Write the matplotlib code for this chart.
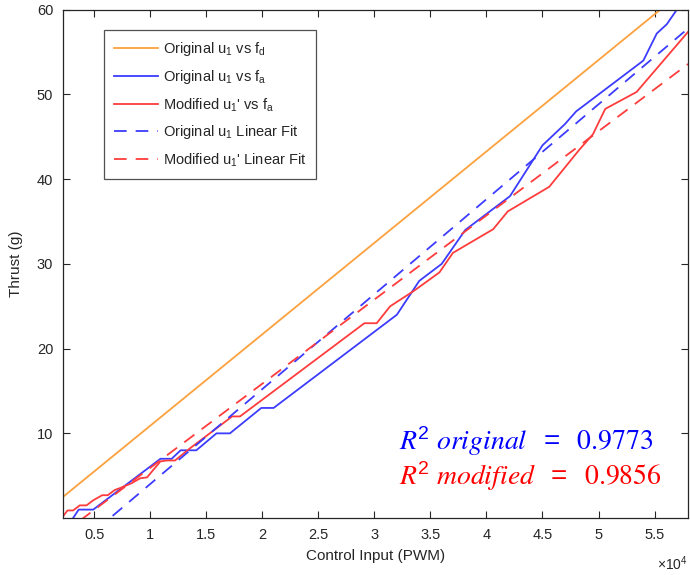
import matplotlib.pyplot as plt

################################################################################
#   Data.                                              #
################################################################################

# desired thrust f_d (straight line)
fd_pwm = [2200, 58000]
fd_thrust = [2.5, 62.7]

# measured thrust, original input u1
orig_pwm = [3100, 3600, 4900, 10900, 11900, 12700, 14100, 15900, 17100,
            19900, 21000, 32000, 34000, 36000, 38100, 42100, 45000, 47000,
            48000, 54000, 55200, 56100, 57500]
orig_thrust = [0, 1, 1, 7, 7, 8, 8, 10, 10,
               13, 13, 24, 28, 30, 34, 38, 44, 46.5,
               48, 54, 57.2, 58.3, 61]

# measured thrust, modified input u1'
mod_pwm = [2200, 2600, 3100, 3700, 4300, 4900, 5700, 6200, 6800, 7400,
           8300, 9100, 9700, 10900, 11500, 12200, 13500, 17300, 18000,
           29100, 30200, 31400, 33500, 35800, 37000, 40600, 41900, 45600,
           48300, 49500, 50600, 53400, 58000]
mod_thrust = [0.2, 0.9, 0.9, 1.5, 1.5, 2.1, 2.7, 2.7, 3.3, 3.6,
              4.1, 4.7, 4.8, 6.7, 6.8, 6.8, 8.2, 12, 12,
              23, 23, 25, 26.8, 29, 31.3, 34.1, 36.2, 39.1,
              43.5, 45.3, 48.3, 50.3, 57.4]

# linear fits (end points)
fit_pwm = [2200, 58000]
orig_fit = [-4.7, 57.8]
mod_fit = [-1.8, 53.6]

r2_orig = 0.9773
r2_mod = 0.9856

################################################################################
#   Plot.                                                                      #
################################################################################

plt.rcParams['font.family'] = ['Liberation Sans', 'DejaVu Sans']
plt.rcParams['mathtext.default'] = 'regular'
plt.rcParams['mathtext.fontset'] = 'stix'

grey = '#262626'
blue = '#3c3cff'
red = '#ff3c3c'

fig = plt.figure(figsize=(6.9, 5.75), dpi=100)
ax = fig.add_axes([0.0913, 0.099, 0.906, 0.884])

ax.plot(fd_pwm, fd_thrust, color='#fba13d', lw=1.3,
        label='Original u$_1$ vs f$_d$')
ax.plot(orig_pwm, orig_thrust, color=blue, lw=1.3,
        label='Original u$_1$ vs f$_a$')
ax.plot(mod_pwm, mod_thrust, color=red, lw=1.3,
        label="Modified u$_1$' vs f$_a$")
ax.plot(fit_pwm, orig_fit, color=blue, lw=1.3, dashes=(7, 5),
        label='Original u$_1$ Linear Fit')
ax.plot(fit_pwm, mod_fit, color=red, lw=1.3, dashes=(7, 5),
        label="Modified u$_1$' Linear Fit")

ax.set_xlim(2200, 58000)
ax.set_ylim(0, 60)
ax.set_xticks([5000, 10000, 15000, 20000, 25000, 30000, 35000, 40000, 45000, 50000, 55000])
ax.set_xticklabels(['0.5', '1', '1.5', '2', '2.5', '3', '3.5', '4', '4.5', '5', '5.5'])
ax.set_yticks([10, 20, 30, 40, 50, 60])

ax.tick_params(direction='in', top=True, right=True, length=5, width=0.8,
               colors=grey, labelsize=10.5, pad=7)
for s in ax.spines.values():
    s.set_color(grey)
    s.set_linewidth(0.9)

ax.set_xlabel('Control Input (PWM)', fontsize=11, color=grey, labelpad=5)
ax.set_ylabel('Thrust (g)', fontsize=11, color=grey, labelpad=10)
ax.text(1.0, -0.072, r'$\times$10$^4$', transform=ax.transAxes,
        ha='right', va='top', fontsize=10, color=grey)

leg = ax.legend(loc='upper left', bbox_to_anchor=(0.066, 0.96), fontsize=10.5,
                frameon=True, fancybox=False, edgecolor=grey, handlelength=3.0,
                handletextpad=0.3, labelspacing=0.68, borderpad=0.7,
                borderaxespad=0)
leg.get_frame().set_linewidth(0.9)
for t in leg.get_texts():
    t.set_color(grey)

ax.text(0.538, 0.152,
        r'$\mathit{R}^2\ \mathit{original}\ \ =\ \ \mathrm{%.4f}$' % r2_orig,
        transform=ax.transAxes, fontsize=20, color='blue', va='center')
ax.text(0.538, 0.083,
        r'$\mathit{R}^2\ \mathit{modified}\ \ =\ \ \mathrm{%.4f}$' % r2_mod,
        transform=ax.transAxes, fontsize=20, color='red', va='center')

plt.savefig('out.png', dpi=100)
